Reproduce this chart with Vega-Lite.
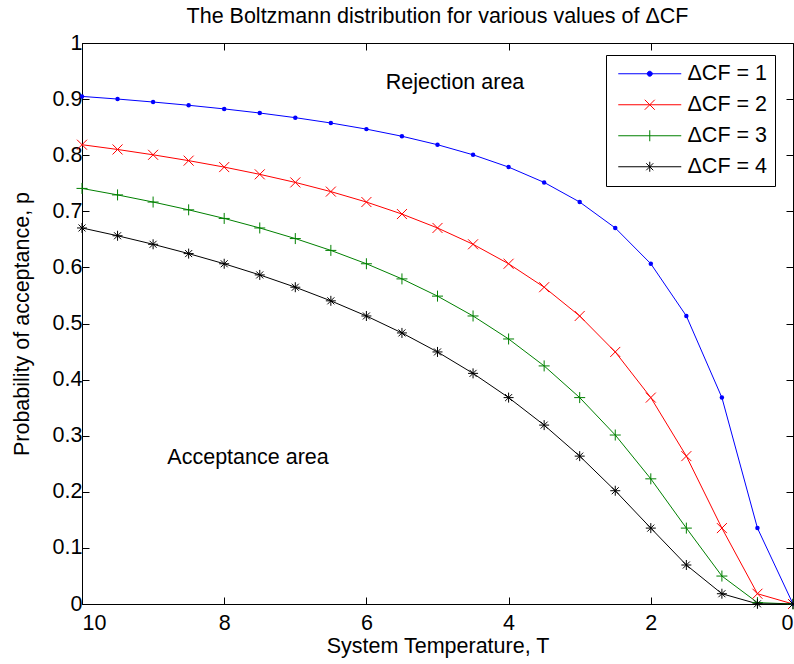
{
  "$schema": "https://vega.github.io/schema/vega-lite/v6.json",
  "width": 711,
  "height": 561,
  "autosize": {"type": "none"},
  "padding": {"left": 82, "top": 43, "right": 1, "bottom": 60},
  "background": "white",
  "config": {
    "font": "Liberation Sans",
    "view": {"stroke": "black", "strokeWidth": 1},
    "axis": {
      "grid": false,
      "domainColor": "black",
      "tickColor": "black",
      "labelColor": "black",
      "titleColor": "black",
      "labelFont": "Liberation Sans",
      "titleFont": "Liberation Sans",
      "labelFontSize": 21.5,
      "titleFontSize": 21.5,
      "titleFontWeight": "normal",
      "tickSize": -7,
      "domainWidth": 1,
      "tickWidth": 1
    },
    "legend": {
      "orient": "none",
      "legendX": 524,
      "legendY": 12,
      "padding": 8,
      "strokeColor": "black",
      "fillColor": "white",
      "labelFont": "Liberation Sans",
      "labelFontSize": 21.5,
      "labelColor": "black",
      "symbolSize": 100,
      "symbolOffset": 25,
      "labelOffset": 27,
      "rowPadding": 8,
      "symbolStrokeWidth": 1
    }
  },
  "title": {
    "text": "The Boltzmann distribution for various values of ΔCF",
    "font": "Liberation Sans",
    "fontSize": 21.5,
    "fontWeight": "normal",
    "color": "black",
    "anchor": "middle",
    "offset": 5
  },
  "datasets": {
    "curves": [
      {"T": 10, "p": 0.9048, "s": "ΔCF = 1"},
      {"T": 9.5, "p": 0.9001, "s": "ΔCF = 1"},
      {"T": 9, "p": 0.8948, "s": "ΔCF = 1"},
      {"T": 8.5, "p": 0.889, "s": "ΔCF = 1"},
      {"T": 8, "p": 0.8825, "s": "ΔCF = 1"},
      {"T": 7.5, "p": 0.8752, "s": "ΔCF = 1"},
      {"T": 7, "p": 0.8669, "s": "ΔCF = 1"},
      {"T": 6.5, "p": 0.8574, "s": "ΔCF = 1"},
      {"T": 6, "p": 0.8465, "s": "ΔCF = 1"},
      {"T": 5.5, "p": 0.8338, "s": "ΔCF = 1"},
      {"T": 5, "p": 0.8187, "s": "ΔCF = 1"},
      {"T": 4.5, "p": 0.8007, "s": "ΔCF = 1"},
      {"T": 4, "p": 0.7788, "s": "ΔCF = 1"},
      {"T": 3.5, "p": 0.7515, "s": "ΔCF = 1"},
      {"T": 3, "p": 0.7165, "s": "ΔCF = 1"},
      {"T": 2.5, "p": 0.6703, "s": "ΔCF = 1"},
      {"T": 2, "p": 0.6065, "s": "ΔCF = 1"},
      {"T": 1.5, "p": 0.5134, "s": "ΔCF = 1"},
      {"T": 1, "p": 0.3679, "s": "ΔCF = 1"},
      {"T": 0.5, "p": 0.1353, "s": "ΔCF = 1"},
      {"T": 0, "p": 0, "s": "ΔCF = 1"},
      {"T": 10, "p": 0.8187, "s": "ΔCF = 2"},
      {"T": 9.5, "p": 0.8102, "s": "ΔCF = 2"},
      {"T": 9, "p": 0.8007, "s": "ΔCF = 2"},
      {"T": 8.5, "p": 0.7903, "s": "ΔCF = 2"},
      {"T": 8, "p": 0.7788, "s": "ΔCF = 2"},
      {"T": 7.5, "p": 0.7659, "s": "ΔCF = 2"},
      {"T": 7, "p": 0.7515, "s": "ΔCF = 2"},
      {"T": 6.5, "p": 0.7351, "s": "ΔCF = 2"},
      {"T": 6, "p": 0.7165, "s": "ΔCF = 2"},
      {"T": 5.5, "p": 0.6951, "s": "ΔCF = 2"},
      {"T": 5, "p": 0.6703, "s": "ΔCF = 2"},
      {"T": 4.5, "p": 0.6412, "s": "ΔCF = 2"},
      {"T": 4, "p": 0.6065, "s": "ΔCF = 2"},
      {"T": 3.5, "p": 0.5647, "s": "ΔCF = 2"},
      {"T": 3, "p": 0.5134, "s": "ΔCF = 2"},
      {"T": 2.5, "p": 0.4493, "s": "ΔCF = 2"},
      {"T": 2, "p": 0.3679, "s": "ΔCF = 2"},
      {"T": 1.5, "p": 0.2636, "s": "ΔCF = 2"},
      {"T": 1, "p": 0.1353, "s": "ΔCF = 2"},
      {"T": 0.5, "p": 0.0183, "s": "ΔCF = 2"},
      {"T": 0, "p": 0, "s": "ΔCF = 2"},
      {"T": 10, "p": 0.7408, "s": "ΔCF = 3"},
      {"T": 9.5, "p": 0.7292, "s": "ΔCF = 3"},
      {"T": 9, "p": 0.7165, "s": "ΔCF = 3"},
      {"T": 8.5, "p": 0.7026, "s": "ΔCF = 3"},
      {"T": 8, "p": 0.6873, "s": "ΔCF = 3"},
      {"T": 7.5, "p": 0.6703, "s": "ΔCF = 3"},
      {"T": 7, "p": 0.6514, "s": "ΔCF = 3"},
      {"T": 6.5, "p": 0.6303, "s": "ΔCF = 3"},
      {"T": 6, "p": 0.6065, "s": "ΔCF = 3"},
      {"T": 5.5, "p": 0.5795, "s": "ΔCF = 3"},
      {"T": 5, "p": 0.5488, "s": "ΔCF = 3"},
      {"T": 4.5, "p": 0.5134, "s": "ΔCF = 3"},
      {"T": 4, "p": 0.4724, "s": "ΔCF = 3"},
      {"T": 3.5, "p": 0.4244, "s": "ΔCF = 3"},
      {"T": 3, "p": 0.3679, "s": "ΔCF = 3"},
      {"T": 2.5, "p": 0.3012, "s": "ΔCF = 3"},
      {"T": 2, "p": 0.2231, "s": "ΔCF = 3"},
      {"T": 1.5, "p": 0.1353, "s": "ΔCF = 3"},
      {"T": 1, "p": 0.0498, "s": "ΔCF = 3"},
      {"T": 0.5, "p": 0.0025, "s": "ΔCF = 3"},
      {"T": 0, "p": 0, "s": "ΔCF = 3"},
      {"T": 10, "p": 0.6703, "s": "ΔCF = 4"},
      {"T": 9.5, "p": 0.6564, "s": "ΔCF = 4"},
      {"T": 9, "p": 0.6412, "s": "ΔCF = 4"},
      {"T": 8.5, "p": 0.6246, "s": "ΔCF = 4"},
      {"T": 8, "p": 0.6065, "s": "ΔCF = 4"},
      {"T": 7.5, "p": 0.5866, "s": "ΔCF = 4"},
      {"T": 7, "p": 0.5647, "s": "ΔCF = 4"},
      {"T": 6.5, "p": 0.5404, "s": "ΔCF = 4"},
      {"T": 6, "p": 0.5134, "s": "ΔCF = 4"},
      {"T": 5.5, "p": 0.4832, "s": "ΔCF = 4"},
      {"T": 5, "p": 0.4493, "s": "ΔCF = 4"},
      {"T": 4.5, "p": 0.4111, "s": "ΔCF = 4"},
      {"T": 4, "p": 0.3679, "s": "ΔCF = 4"},
      {"T": 3.5, "p": 0.3189, "s": "ΔCF = 4"},
      {"T": 3, "p": 0.2636, "s": "ΔCF = 4"},
      {"T": 2.5, "p": 0.2019, "s": "ΔCF = 4"},
      {"T": 2, "p": 0.1353, "s": "ΔCF = 4"},
      {"T": 1.5, "p": 0.0695, "s": "ΔCF = 4"},
      {"T": 1, "p": 0.0183, "s": "ΔCF = 4"},
      {"T": 0.5, "p": 0.0003, "s": "ΔCF = 4"},
      {"T": 0, "p": 0, "s": "ΔCF = 4"}
    ],
    "notes": [
      {"T": 4.754, "p": 0.9287, "txt": "Rejection area"},
      {"T": 7.665, "p": 0.2603, "txt": "Acceptance area"}
    ]
  },
  "layer": [
    {
      "data": {"name": "curves"},
      "mark": {"type": "line", "strokeWidth": 1},
      "encoding": {
        "x": {
          "field": "T", "type": "quantitative",
          "scale": {"domain": [0, 10], "reverse": true, "nice": false, "zero": false},
          "axis": {"values": [0, 2, 4, 6, 8, 10], "format": "d", "title": "System Temperature, T", "labelPadding": 15, "titlePadding": 2}
        },
        "y": {
          "field": "p", "type": "quantitative",
          "scale": {"domain": [0, 1], "nice": false},
          "axis": {"values": [0, 0.1, 0.2, 0.3, 0.4, 0.5, 0.6, 0.7, 0.8, 0.9, 1], "format": ".1~f", "title": "Probability of acceptance, p", "labelPadding": 7, "titlePadding": 19}
        },
        "color": {
          "field": "s", "type": "nominal",
          "scale": {"domain": ["ΔCF = 1", "ΔCF = 2", "ΔCF = 3", "ΔCF = 4"], "range": ["#0000ff", "#ff0000", "#008000", "#000000"]},
          "legend": {
            "title": null,
            "encode": {
              "symbols": {
                "update": {
                  "shape": {"signal": "datum.index === 0 ? 'M-6.3,0H6.3M0.5,0A0.5,0.5 0 1,1 -0.5,0A0.5,0.5 0 1,1 0.5,0Z' : datum.index === 1 ? 'M-6.3,0H6.3M-1,-1L1,1M-1,1L1,-1' : datum.index === 2 ? 'M-6.3,0H6.3M0,-1.1V1.1' : 'M-6.3,0H6.3M0,-1V1M-0.7,-0.7L0.7,0.7M-0.7,0.7L0.7,-0.7'"},
                  "fill": {"signal": "datum.index === 0 ? '#0000ff' : 'transparent'"}
                }
              }
            }
          }
        }
      }
    },
    {
      "data": {"name": "curves"},
      "transform": [{"filter": "datum.s === 'ΔCF = 1'"}],
      "mark": {"type": "point", "shape": "circle", "filled": true, "color": "#0000ff", "size": 20, "opacity": 1},
      "encoding": {
        "x": {"field": "T", "type": "quantitative", "axis": {"orient": "top", "labels": false, "title": null, "values": [0, 2, 4, 6, 8, 10], "domain": false}},
        "y": {"field": "p", "type": "quantitative", "axis": {"orient": "right", "labels": false, "title": null, "values": [0, 0.1, 0.2, 0.3, 0.4, 0.5, 0.6, 0.7, 0.8, 0.9, 1], "domain": false}}
      }
    },
    {
      "data": {"name": "curves"},
      "transform": [{"filter": "datum.s === 'ΔCF = 2'"}],
      "mark": {"type": "point", "shape": "M-1,-1L1,1M-1,1L1,-1", "filled": false, "color": "#ff0000", "size": 100, "strokeWidth": 1, "opacity": 1},
      "encoding": {
        "x": {"field": "T", "type": "quantitative", "axis": null},
        "y": {"field": "p", "type": "quantitative", "axis": null}
      }
    },
    {
      "data": {"name": "curves"},
      "transform": [{"filter": "datum.s === 'ΔCF = 3'"}],
      "mark": {"type": "point", "shape": "M0,-1.1V1.1M-1.1,0H1.1", "filled": false, "color": "#008000", "size": 100, "strokeWidth": 1, "opacity": 1},
      "encoding": {
        "x": {"field": "T", "type": "quantitative", "axis": null},
        "y": {"field": "p", "type": "quantitative", "axis": null}
      }
    },
    {
      "data": {"name": "curves"},
      "transform": [{"filter": "datum.s === 'ΔCF = 4'"}],
      "mark": {"type": "point", "shape": "M0,-1V1M-1,0H1M-0.7,-0.7L0.7,0.7M-0.7,0.7L0.7,-0.7", "filled": false, "color": "#000000", "size": 100, "strokeWidth": 1, "opacity": 1},
      "encoding": {
        "x": {"field": "T", "type": "quantitative", "axis": null},
        "y": {"field": "p", "type": "quantitative", "axis": null}
      }
    },
    {
      "data": {"name": "notes"},
      "mark": {"type": "text", "font": "Liberation Sans", "fontSize": 21.5, "align": "center", "baseline": "middle", "color": "black"},
      "encoding": {
        "x": {"field": "T", "type": "quantitative", "axis": null},
        "y": {"field": "p", "type": "quantitative", "axis": null},
        "text": {"field": "txt", "type": "nominal"}
      }
    }
  ],
  "resolve": {"axis": {"x": "independent", "y": "independent"}}
}
